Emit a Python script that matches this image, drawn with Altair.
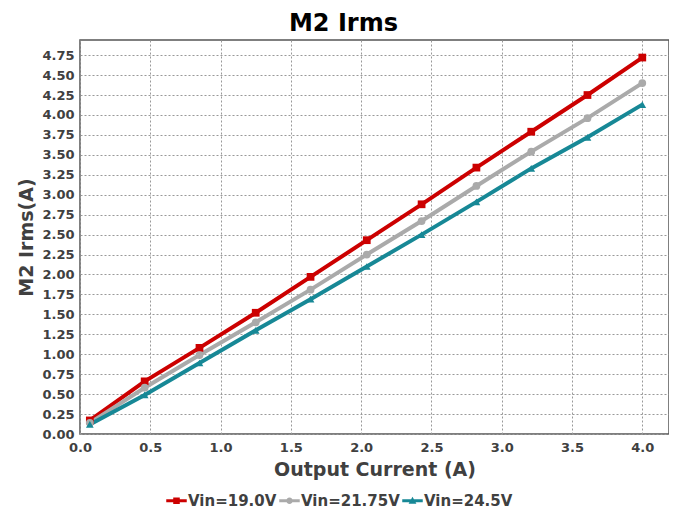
import altair as alt
import pandas as pd

x_vals = [0.07, 0.46, 0.85, 1.25, 1.64, 2.04, 2.43, 2.82, 3.21, 3.61, 4.0]
series_names = ["Vin=19.0V", "Vin=21.75V", "Vin=24.5V"]
y_19 = [0.17, 0.66, 1.08, 1.52, 1.97, 2.43, 2.88, 3.34, 3.79, 4.25, 4.72]
y_2175 = [0.14, 0.58, 0.99, 1.40, 1.81, 2.25, 2.67, 3.11, 3.54, 3.96, 4.40]
y_245 = [0.12, 0.49, 0.89, 1.30, 1.69, 2.10, 2.50, 2.91, 3.33, 3.72, 4.13]
x_ticks = [0, 0.5, 1.0, 1.5, 2.0, 2.5, 3.0, 3.5, 4.0]
y_ticks = [i * 0.25 for i in range(20)]

colors = ["#cc0000", "#aaaaaa", "#178896"]
marker_shapes = ["square", "circle", "triangle-up"]
line_stub = "M-1,-0.14H1V0.14H-1Z"
legend_paths = [
    line_stub + "M-0.32,-0.32H0.32V0.32H-0.32Z",
    line_stub + "M0.32,0A0.32,0.32 0 1,1 -0.32,0A0.32,0.32 0 1,1 0.32,0Z",
    line_stub + "M0,-0.38L0.38,0.3L-0.38,0.3Z",
]

rows = []
for name, ys in zip(series_names, [y_19, y_2175, y_245]):
    for xv, yv in zip(x_vals, ys):
        rows.append({"x": xv, "y": yv, "series": name})
df = pd.DataFrame(rows)

FONT = "DejaVu Sans"
TXT = "#404040"

xenc = alt.X("x:Q", scale=alt.Scale(domain=[0, 4.19], nice=False, zero=False),
             axis=alt.Axis(title="Output Current (A)", values=x_ticks, format=".1f",
                           labelPadding=7, titlePadding=6, labelFlush=False))
yenc = alt.Y("y:Q", scale=alt.Scale(domain=[0, 4.94], nice=False),
             axis=alt.Axis(title="M2 Irms(A)", values=y_ticks, format=".2f",
                           labelPadding=6, titlePadding=5, labelFlush=False))
color_scale = alt.Scale(domain=series_names, range=colors)

leg = alt.Legend(title=None, orient="none", direction="horizontal",
                 legendX=86, legendY=450,
                 symbolOpacity=1, symbolSize=420, symbolStrokeWidth=0,
                 labelFont=FONT, labelFontSize=15, labelFontWeight="bold",
                 labelColor=TXT, labelOffset=1, columnPadding=2)

base = alt.Chart(df)

legend_layer = base.mark_point(filled=True, opacity=0).encode(
    x=xenc, y=yenc,
    color=alt.Color("series:N", scale=color_scale, legend=leg),
    shape=alt.Shape("series:N", scale=alt.Scale(domain=series_names, range=legend_paths),
                    legend=leg),
)

lines = base.mark_line(strokeWidth=4).encode(
    x=xenc, y=yenc,
    color=alt.Color("series:N", scale=color_scale),
    detail="series:N",
)

point_layers = []
for name, shp in zip(series_names, marker_shapes):
    point_layers.append(
        base.transform_filter(alt.datum.series == name)
        .mark_point(filled=True, shape=shp, size=60, opacity=1)
        .encode(x=xenc, y=yenc,
                color=alt.Color("series:N", scale=color_scale))
    )

chart = alt.layer(legend_layer, lines, *point_layers).properties(
    width=589, height=394,
    padding={"left": 9, "top": 4, "right": 0, "bottom": 0},
    title=alt.TitleParams("M2 Irms", font=FONT, fontSize=24, fontWeight="bold",
                          color="#000000", anchor="middle", frame="bounds", offset=4),
).configure_view(
    stroke="#555555", strokeWidth=1.5
).configure_axis(
    grid=True, gridColor="#999999", gridDash=[2, 2], gridWidth=1,
    domain=False, ticks=False,
    labelFont=FONT, labelFontSize=13, labelFontWeight="bold", labelColor=TXT,
    titleFont=FONT, titleFontSize=19, titleFontWeight="bold", titleColor=TXT,
)

chart.save("out.html", embed_options={"renderer": "svg", "actions": False})
